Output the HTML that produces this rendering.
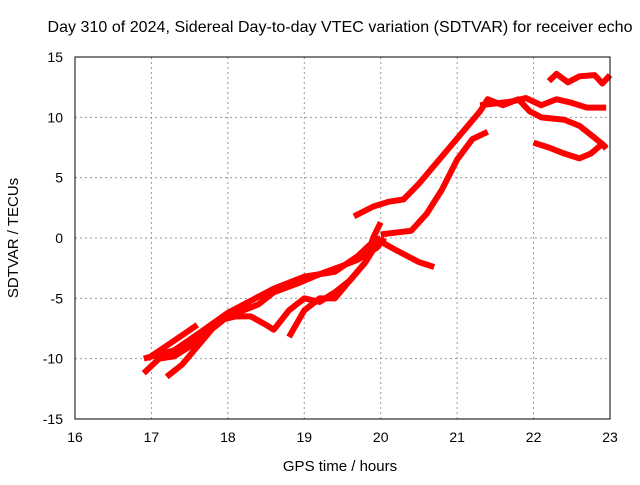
<!DOCTYPE html>
<html><head><meta charset="utf-8"><style>
body{margin:0;background:#fff;font-family:"Liberation Sans",sans-serif}
svg text{font-family:"Liberation Sans",sans-serif;font-size:14px;fill:#000}
</style></head><body>
<svg id="c" width="640" height="480">
<rect width="640" height="480" fill="#fff"/>
<text x="340" y="32" text-anchor="middle" style="font-size:16px" textLength="585">Day 310 of 2024, Sidereal Day-to-day VTEC variation (SDTVAR) for receiver echo</text>
<text x="340" y="471" text-anchor="middle" style="font-size:15px">GPS time / hours</text>
<text x="18" y="238" text-anchor="middle" style="font-size:15px" transform="rotate(-90 18 238)">SDTVAR / TECUs</text>
<g id="grid"></g><g id="series"></g>
<rect x="75" y="57" width="535" height="362" fill="none" stroke="#000"/>
</svg>
<script>
const xTicks=[16,17,18,19,20,21,22,23];
const yTicks=[-15,-10,-5,0,5,10,15];
const s1=[[16.9,-10],[17.3,-9.3],[17.6,-8],[18.0,-6.2],[18.3,-5.2],[18.6,-4.2],[19.0,-3.2],[19.4,-2.8],[19.7,-1.5],[19.9,-0.3],[20.0,0]];
const s2=[[19.65,1.8],[19.9,2.6],[20.1,3.0],[20.3,3.2],[20.5,4.5],[20.7,6],[20.9,7.5],[21.1,9],[21.3,10.5],[21.4,11.5],[21.6,11],[21.8,11.5],[21.95,10.5],[22.1,10],[22.4,9.8],[22.6,9.3],[22.8,8.3],[22.95,7.5]];
const s3=[[20.0,0.3],[20.4,0.6],[20.6,2],[20.8,4],[21.0,6.5],[21.2,8.2],[21.4,8.8]];
const s4=[[21.3,11],[21.7,11.3],[21.9,11.6],[22.1,11.0],[22.3,11.5],[22.5,11.2],[22.7,10.8],[22.95,10.8]];
const s5=[[22.2,13],[22.3,13.6],[22.45,12.9],[22.6,13.4],[22.8,13.5],[22.9,12.8],[23.0,13.5]];
const s6=[[22.0,7.9],[22.2,7.5],[22.4,7.0],[22.6,6.6],[22.75,7.0],[22.9,7.8],[22.95,7.4]];
const s7=[[16.9,-11.2],[17.1,-10],[17.3,-9.8],[17.5,-9],[17.7,-8],[17.9,-6.8],[18.1,-6.5],[18.3,-6.5],[18.5,-7.2],[18.6,-7.6],[18.8,-6],[19.0,-5],[19.2,-5.3],[19.4,-4.5],[19.6,-3.5],[19.8,-2],[19.9,-1],[20.0,-0.3],[20.2,-1],[20.5,-2.0],[20.7,-2.4]];
const s8=[[17.2,-11.5],[17.4,-10.5],[17.6,-9],[17.8,-7.5],[18.0,-6.5],[18.2,-6.0],[18.4,-5.5],[18.6,-4.5],[18.9,-3.8],[19.2,-3],[19.5,-2.3],[19.7,-1.8],[19.95,-0.8],[20.05,0]];
const s9=[[16.95,-10],[17.3,-8.5],[17.6,-7.2]];
const s10=[[18.8,-8.2],[19.0,-6],[19.2,-5],[19.4,-5.0],[19.6,-3.5],[19.8,-2],[19.9,0],[20.0,1.3]];
const allSeries=[s1,s2,s3,s4,s5,s6,s7,s8,s9,s10];
const X=h=>75+(h-16)*535/7, Y=v=>238-v*362/30;
const NS="http://www.w3.org/2000/svg";
const g=document.getElementById('grid'), sg=document.getElementById('series');
function mk(t,a,p){const e=document.createElementNS(NS,t);for(const k in a)e.setAttribute(k,a[k]);p.appendChild(e);return e;}
xTicks.forEach(t=>{const x=X(t);
 if(t>16&&t<23){const l=mk('line',{x1:x,x2:x,y1:57,y2:419,stroke:'#999','stroke-dasharray':'2,3'},g);
 
 }
 const tx=mk('text',{x:x,y:442,'text-anchor':'middle'},g);tx.textContent=t;
 
 });
yTicks.forEach(t=>{const y=Y(t);
 if(t>-15&&t<15){const l=mk('line',{x1:75,x2:610,y1:y,y2:y,stroke:'#999','stroke-dasharray':'2,3'},g);
 
 }
 const tx=mk('text',{x:63,y:y+5,'text-anchor':'end'},g);tx.textContent=t;
 
 });
allSeries.forEach((s,i)=>{
 const p=mk('polyline',{points:s.map(d=>X(d[0])+','+Y(d[1])).join(' '),fill:'none',stroke:'#f00','stroke-width':6,'stroke-linejoin':'round'},sg);
 
 });
</script>
</body></html>
